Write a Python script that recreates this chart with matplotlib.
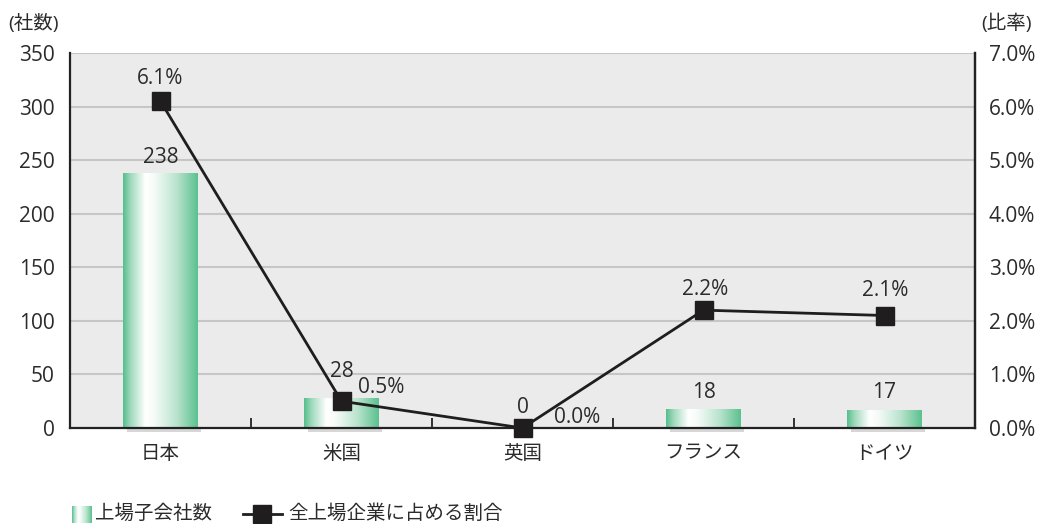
import matplotlib
matplotlib.use("Agg")
import matplotlib.pyplot as plt
import numpy as np
from matplotlib.colors import LinearSegmentedColormap
from matplotlib.patches import Rectangle
from matplotlib.lines import Line2D

plt.rcParams['font.family'] = ['Open Sans', 'Noto Sans CJK JP', 'DejaVu Sans']

categories = ["日本", "米国", "英国", "フランス", "ドイツ"]
counts = [238, 28, 0, 18, 17]
ratios = [6.1, 0.5, 0.0, 2.2, 2.1]
left_ticks = [0, 50, 100, 150, 200, 250, 300, 350]
right_ticks = [0, 1, 2, 3, 4, 5, 6, 7]

TXT = '#2b2b2b'
fig = plt.figure(figsize=(10.4, 5.24), dpi=100)
ax = fig.add_axes([70/1040, 1-428/524, 905/1040, 375/524])
ax.set_facecolor('#ebebeb')
ax.yaxis.grid(True, color='#c6c6c6', linewidth=1.5)
ax.set_axisbelow(True)
ax.set_yticks(left_ticks)
ax.tick_params(axis='y', length=0, labelsize=15, pad=11, labelcolor=TXT)
ax.set_xticks(range(len(categories)))
ax.set_xticklabels(categories, fontsize=14, color=TXT)
ax.set_xticks(np.arange(0.5, len(categories)-0.5, 1), minor=True)
ax.tick_params(axis='x', which='major', length=0, pad=12)
ax.tick_params(axis='x', which='minor', length=7, direction='in', width=1.3, color='#222222')
ax.spines['top'].set_visible(False)
for s in ['left', 'right', 'bottom']:
    ax.spines[s].set_linewidth(1.6)
    ax.spines[s].set_color('#222222')

cmap = LinearSegmentedColormap.from_list('g', [(0, '#56be8c'), (0.1, '#9fd9bd'), (0.3, '#ffffff'),
                                               (0.42, '#f6fbf8'), (0.72, '#b8e3cd'), (1.0, '#5bc18f')])
grad = np.linspace(0, 1, 256).reshape(1, -1)
bw = 0.41
for i, v in enumerate(counts):
    if v <= 0:
        continue
    sh = Rectangle((i - bw/2 + 0.02, -4), bw, 4, facecolor='#a8a8a8', alpha=0.45,
                   edgecolor='none', zorder=1.5, clip_on=False)
    ax.add_patch(sh)
    im = ax.imshow(grad, extent=(i - bw/2, i + bw/2, 0, v), aspect='auto', cmap=cmap, zorder=2)
    r = Rectangle((i - bw/2, 0), bw, v, facecolor='none', edgecolor='none', transform=ax.transData)
    ax.add_patch(r)
    im.set_clip_path(r)
ax.set_xlim(-0.5, len(categories)-0.5)
ax.set_ylim(0, 350)

count_offsets = [(0, 10), (0, 21), (0, 15), (0, 11), (0, 12)]
for i, v in enumerate(counts):
    dx, dy = count_offsets[i]
    ax.annotate(str(v), (i, v), xytext=(dx, dy), textcoords='offset pixels',
                ha='center', va='baseline', fontsize=15, color=TXT, zorder=5)

ax2 = ax.twinx()
ax2.set_ylim(0, 7)
ax2.set_yticks(right_ticks)
ax2.set_yticklabels([f"{t:.1f}%" for t in right_ticks])
ax2.tick_params(axis='y', length=0, labelsize=15, pad=10, labelcolor=TXT)
for s in ['top', 'left', 'bottom']:
    ax2.spines[s].set_visible(False)
ax2.spines['right'].set_linewidth(1.6)
ax2.spines['right'].set_color('#222222')
x = np.arange(len(categories))
ax2.plot(x, ratios, color='#1f1d1e', linewidth=2.0, marker='s', markersize=12.5,
         markerfacecolor='#1f1d1e', markeredgecolor='#1f1d1e', zorder=6, clip_on=False)
ratio_offsets = [(0, 17), (40, 8), (55, 5), (2, 15), (1, 19)]
for i, r in enumerate(ratios):
    dx, dy = ratio_offsets[i]
    ax2.annotate(f"{r:.1f}%", (i, r), xytext=(dx, dy), textcoords='offset pixels',
                 ha='center', va='baseline', fontsize=15, color=TXT, zorder=7)

fig.text(8/1040, 1-23/524, "(社数)", fontsize=14, va='center', ha='left', color=TXT)
fig.text(1032/1040, 1-23/524, "(比率)", fontsize=14, va='center', ha='right', color=TXT)

# legend
lax = fig.add_axes([72/1040, 1-523/524, 20/1040, 17/524])
lax.imshow(grad, extent=(0, 1, 0, 1), aspect='auto', cmap=cmap)
lax.axis('off')
fig.text(95/1040, 1-514/524, "上場子会社数", fontsize=14, va='center', ha='left', color=TXT)
fig.add_artist(Line2D([243/1040, 282/1040], [1-514/524, 1-514/524], color='#1f1d1e', linewidth=2.0,
                      transform=fig.transFigure))
fig.add_artist(Line2D([262/1040], [1-514/524], marker='s', markersize=13, color='#1f1d1e',
                      transform=fig.transFigure))
fig.text(288/1040, 1-514/524, "全上場企業に占める割合", fontsize=14, va='center', ha='left', color=TXT)

fig.savefig("out.png", dpi=100, facecolor='white')
